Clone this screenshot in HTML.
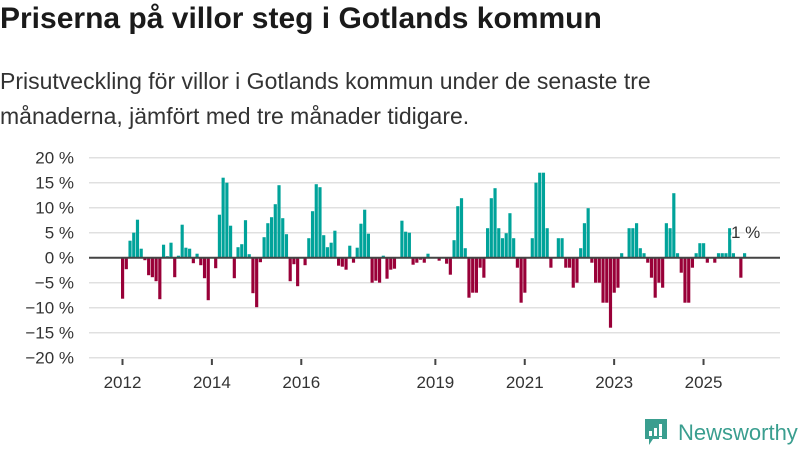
<!DOCTYPE html>
<html><head><meta charset="utf-8"><style>
body{margin:0;width:800px;height:450px;background:#fff;font-family:"Liberation Sans","DejaVu Sans",sans-serif;overflow:hidden;position:relative;color:#222}
h1{position:absolute;left:0;top:2px;margin:0;font-size:30px;font-weight:bold;color:#1a1a1a}
.sub{position:absolute;left:0;top:64px;margin:0;font-size:23px;line-height:35px;color:#333;width:690px}
svg{position:absolute;left:0;top:0}
</style></head><body>
<h1>Priserna på villor steg i Gotlands kommun</h1>
<p class="sub">Prisutveckling för villor i Gotlands kommun under de senaste tre månaderna, jämfört med tre månader tidigare.</p>
<svg id="chart" width="800" height="450"></svg>
<script>
const values=[-8.2,-2.3,3.4,5,7.6,1.8,-0.5,-3.5,-3.9,-4.7,-8.3,2.6,0.3,3,-3.9,0.4,6.6,2,1.8,-1.1,0.8,-1.5,-4.1,-8.5,0,-2.1,8.6,16,
15,6.4,-4.1,2.1,2.7,7.5,0.7,-7.1,-9.9,-0.9,
4.1,6.9,8.1,10.7,14.5,7.9,4.7,-4.7,-1.3,-5.7,
0,-1.5,3.9,9.3,14.7,14.1,4.5,2.1,3,5.4,
-1.6,-1.8,-2.4,2.4,-1,2,6.8,9.6,4.8,-5,
-4.6,-5,0.4,-4.2,-2.4,-2.2,0,7.4,5.2,5,
-1.4,-1,-0.4,-1,0.8,0,0,-0.6,0,-1.2,
-3.4,3.5,10.3,11.9,1.9,-8,-7,-7,-2,-4,
5.9,11.9,13.9,5.9,3.9,4.9,8.9,3.9,-2,-9,
-7,0,3.9,15,17,17,5.9,-2,0,3.9,
3.9,-2,-2,-6,-5,1.9,6.9,9.9,-1,-5,
-5,-9,-9,-14,-7,-6,0.9,0,5.9,5.9,
6.9,1.9,0.9,-1,-4,-8,-5,-6,6.9,5.9,
12.9,0.9,-3,-9,-9,-2,0.9,2.9,2.9,-1,
0,-1,0.9,0.9,0.9,5.9,0.9,0,-4,0.9];
const yTicks=[20,15,10,5,0,-5,-10,-15,-20];
const xTickLabels=["2012","2014","2016","2019","2021","2023","2025"];
const xTickIndex=[0,24,48,84,108,132,156];
const lastLabel="1 %";

const NS="http://www.w3.org/2000/svg";
const svg=document.getElementById('chart');
const x0=121,x1=743,n=values.length,pitch=(x1-x0)/(n-1);
const xs=i=>x0+i*pitch;
const ys=v=>257.7-v*5;
function mk(t,a){const e=document.createElementNS(NS,t);for(const k in a)e.setAttribute(k,a[k]);svg.appendChild(e);return e;}
yTicks.forEach(v=>{
  const g=mk('line',{x1:89,x2:780,y1:ys(v),y2:ys(v),stroke:'#e0e0e0','stroke-width':1.5});
  
  
  const t=mk('text',{x:74,y:ys(v)+6,'text-anchor':'end','font-size':17,fill:'#333'});
  t.textContent=(v<0?'\u2212'+(-v):v)+' %';
  
  
});
values.forEach((v,i)=>{
  const top=Math.min(ys(v),ys(0)),h=Math.abs(ys(v)-ys(0));
  const r=mk('rect',{x:xs(i),y:top,width:pitch*0.85,height:h,fill:v>=0?'#00a39a':'#990038'});
  
  
});
const z=mk('line',{x1:89,x2:780,y1:ys(0),y2:ys(0),stroke:'#444','stroke-width':2});


xTickLabels.forEach((l,k)=>{
  const x=xs(xTickIndex[k])+1.5;
  const tk=mk('line',{x1:x,x2:x,y1:359,y2:365,stroke:'#444','stroke-width':2});
  
  
  const t=mk('text',{x:x,y:388,'text-anchor':'middle','font-size':17,fill:'#333'});
  t.textContent=l;
  
  
});
const ll=mk('text',{x:xs(n-1)-12,y:238,'font-size':17,fill:'#333',stroke:'#fff','stroke-width':3,'paint-order':'stroke'});
ll.textContent=lastLabel;


</script>
<svg width="160" height="40" style="left:640px;top:413px">
<path d="M5 6 h22 v20 h-14 l-4 6 v-6 h-4z" fill="#3a9e8f"/>
<rect x="9" y="18" width="3" height="5" fill="#fff"/><rect x="14" y="15" width="3" height="8" fill="#fff"/><rect x="19" y="11" width="3" height="12" fill="#fff"/><rect x="19" y="24" width="3" height="2" fill="#fff"/>
<text x="38" y="27" font-size="22" fill="#3a9e8f" font-family="Liberation Sans, sans-serif">Newsworthy</text>
</svg>
</body></html>
